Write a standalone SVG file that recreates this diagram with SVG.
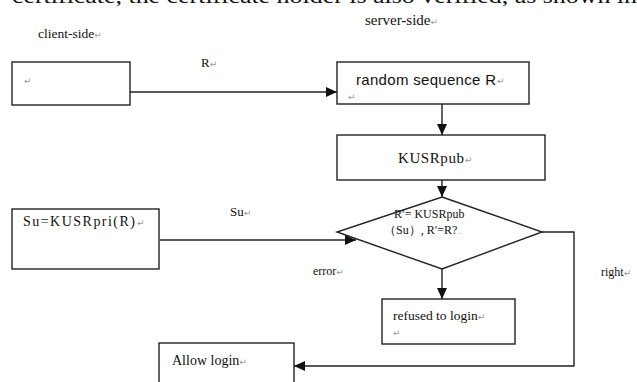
<svg xmlns="http://www.w3.org/2000/svg" width="637" height="382" viewBox="0 0 637 382">
<defs>
<style>
.box{fill:#fff;stroke:#222;stroke-width:1.4}
.ln{fill:none;stroke:#222;stroke-width:1.4}
.t{font-family:"Liberation Serif","Times New Roman",serif;fill:#111}
.s{font-family:"Liberation Sans",Arial,sans-serif;fill:#111}
.rm{font-family:"DejaVu Sans",sans-serif;fill:#999;font-size:9px}
</style>
<marker id="ah" markerUnits="userSpaceOnUse" markerWidth="12" markerHeight="10" refX="11" refY="5" orient="auto">
<path d="M0,0 L11,5 L0,10 Z" fill="#111"/>
</marker>
</defs>
<rect width="637" height="382" fill="#fff"/>
<text class="t" x="12" y="3" font-size="21" textLength="625" lengthAdjust="spacingAndGlyphs">certificate, the certificate holder is also verified, as shown in</text>
<text class="t" x="38" y="38" font-size="13.5">client-side<tspan class="rm">↵</tspan></text>
<text class="t" x="365" y="25" font-size="15">server-side<tspan class="rm">↵</tspan></text>
<g id="connectors">
<line class="ln" x1="130" y1="92" x2="337" y2="92" marker-end="url(#ah)"/>
<line class="ln" x1="442" y1="104" x2="442" y2="135" marker-end="url(#ah)"/>
<line class="ln" x1="442" y1="180" x2="442" y2="197" marker-end="url(#ah)"/>
<line class="ln" x1="160" y1="240" x2="356" y2="240" marker-end="url(#ah)"/>
<line class="ln" x1="442" y1="269" x2="442" y2="299" marker-end="url(#ah)"/>
<polyline class="ln" points="542,232 574,232 574,366 294,366" marker-end="url(#ah)"/>
<text class="t" x="201" y="67" font-size="13">R<tspan class="rm">↵</tspan></text>
<text class="t" x="230" y="216" font-size="13">Su<tspan class="rm">↵</tspan></text>
<text class="t" x="313" y="275" font-size="12">error<tspan class="rm">↵</tspan></text>
<text class="t" x="601" y="276" font-size="12">right<tspan class="rm">↵</tspan></text>
</g>
<g id="client">
<rect class="box" x="12" y="62" width="118" height="43"/>
<text class="rm" x="24" y="84">↵</text>
</g>
<g id="random">
<rect class="box" x="337" y="62" width="192" height="42"/>
<text class="s" x="356" y="85" font-size="15" textLength="140">random sequence R</text><text class="rm" x="497" y="84">↵</text>
<text class="rm" x="348" y="100">↵</text>
</g>
<g id="kusrpub">
<rect class="box" x="337" y="135" width="208" height="45"/>
<text class="t" x="398" y="163" font-size="15" textLength="66">KUSRpub</text><text class="rm" x="465" y="163">↵</text>
</g>
<g id="decision">
<polygon class="box" points="442,197 542,232 442,269 337,232"/>
<text class="t" x="394" y="218" font-size="12">R′= KUSRpub</text>
<text class="t" x="384" y="234" font-size="12">（Su）, R′=R?<tspan fill="#aaa" font-size="9">..</tspan></text>
</g>
<g id="su">
<rect class="box" x="12" y="209" width="147" height="60"/>
<text class="t" x="23" y="226" font-size="14" textLength="112">Su=KUSRpri(R)</text><text class="rm" x="137" y="226">↵</text>
</g>
<g id="refused">
<rect class="box" x="382" y="299" width="133" height="45"/>
<text class="t" x="393" y="320" font-size="13.5">refused to login<tspan class="rm">↵</tspan></text>
<text class="rm" x="393" y="336">↵</text>
</g>
<g id="allow">
<rect class="box" x="159" y="343" width="135" height="45"/>
<text class="t" x="172" y="365" font-size="14">Allow login<tspan class="rm">↵</tspan></text>
</g>
</svg>
